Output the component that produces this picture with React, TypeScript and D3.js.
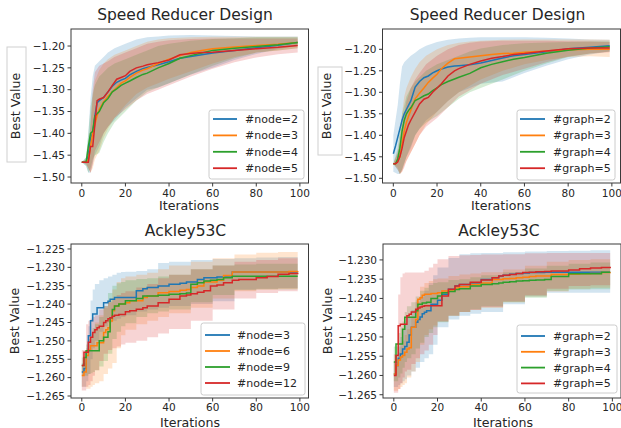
import React from 'react';
import * as d3 from 'd3';

const colors = ['#1f77b4', '#ff7f0e', '#2ca02c', '#d62728'];

// iteration grids (means / bands)
const srIters = [0, 1, 2, 3, 4, 5, 6, 7, 8, 10, 12, 14, 16, 18, 20, 22, 25, 28, 30, 35, 40, 45, 50, 55, 60, 70, 80, 90, 99];
const srBandIters = [0, 2, 3, 4, 5, 6, 8, 10, 12, 15, 20, 25, 30, 35, 40, 50, 60, 70, 80, 90, 99];
const akIters = [0, 1, 2, 3, 4, 5, 6, 7, 8, 10, 11, 12, 13, 14, 15, 17, 20, 22, 25, 28, 30, 35, 40, 45, 48, 50, 53, 56, 59, 62, 65, 69, 72, 80, 85, 90, 95, 99];
const akBandIters = [0, 2, 3, 4, 5, 6, 8, 10, 12, 14, 16, 18, 20, 25, 30, 35, 40, 50, 60, 70, 80, 90, 99];

const xTicks = [0, 20, 40, 60, 80, 100];
const srYTicks = [-1.5, -1.45, -1.4, -1.35, -1.3, -1.25, -1.2];
const akNodeYTicks = [-1.265, -1.26, -1.255, -1.25, -1.245, -1.24, -1.235, -1.23, -1.225];
const akGraphYTicks = [-1.265, -1.26, -1.255, -1.25, -1.245, -1.24, -1.235, -1.23];

// Speed Reducer, #node
const srNodeLabels = ['#node=2', '#node=3', '#node=4', '#node=5'];
const srNodeMean = [
  [-1.466, -1.466, -1.466, -1.45, -1.41, -1.4, -1.36, -1.33, -1.325, -1.318, -1.305, -1.292, -1.283, -1.278, -1.274, -1.266, -1.258, -1.252, -1.249, -1.243, -1.236, -1.228, -1.224, -1.22, -1.216, -1.21, -1.204, -1.198, -1.192],
  [-1.466, -1.466, -1.466, -1.46, -1.43, -1.4, -1.38, -1.36, -1.345, -1.328, -1.315, -1.305, -1.295, -1.285, -1.28, -1.272, -1.262, -1.255, -1.252, -1.24, -1.23, -1.222, -1.215, -1.21, -1.206, -1.202, -1.199, -1.196, -1.192],
  [-1.466, -1.466, -1.466, -1.43, -1.4, -1.395, -1.36, -1.355, -1.35, -1.33, -1.32, -1.305, -1.298, -1.29, -1.285, -1.28, -1.272, -1.265, -1.262, -1.25, -1.24, -1.228, -1.222, -1.216, -1.21, -1.205, -1.201, -1.197, -1.192],
  [-1.466, -1.466, -1.466, -1.466, -1.43, -1.43, -1.38, -1.325, -1.322, -1.318, -1.305, -1.29, -1.276, -1.272, -1.268, -1.258, -1.25, -1.246, -1.243, -1.238, -1.232, -1.22, -1.217, -1.215, -1.214, -1.21, -1.206, -1.203, -1.199],
];
const srNodeLo = [
  [-1.466, -1.475, -1.49, -1.49, -1.47, -1.45, -1.43, -1.4, -1.385, -1.37, -1.34, -1.32, -1.3, -1.295, -1.285, -1.265, -1.25, -1.232, -1.218, -1.207, -1.2],
  [-1.466, -1.47, -1.48, -1.49, -1.48, -1.46, -1.44, -1.41, -1.39, -1.365, -1.335, -1.31, -1.295, -1.285, -1.275, -1.258, -1.24, -1.225, -1.215, -1.21, -1.205],
  [-1.466, -1.475, -1.49, -1.48, -1.46, -1.45, -1.445, -1.42, -1.4, -1.375, -1.35, -1.325, -1.305, -1.295, -1.285, -1.265, -1.245, -1.228, -1.215, -1.21, -1.205],
  [-1.466, -1.47, -1.48, -1.49, -1.47, -1.44, -1.42, -1.4, -1.385, -1.365, -1.345, -1.325, -1.31, -1.3, -1.29, -1.27, -1.252, -1.237, -1.226, -1.219, -1.215],
];
const srNodeHi = [
  [-1.466, -1.455, -1.4, -1.32, -1.27, -1.245, -1.235, -1.225, -1.215, -1.205, -1.195, -1.185, -1.18, -1.178, -1.176, -1.175, -1.176, -1.177, -1.178, -1.178, -1.178],
  [-1.466, -1.46, -1.44, -1.38, -1.32, -1.28, -1.255, -1.24, -1.23, -1.22, -1.21, -1.2, -1.19, -1.185, -1.182, -1.18, -1.179, -1.179, -1.179, -1.179, -1.179],
  [-1.466, -1.455, -1.4, -1.34, -1.31, -1.29, -1.27, -1.26, -1.25, -1.24, -1.23, -1.22, -1.21, -1.2, -1.195, -1.188, -1.184, -1.182, -1.18, -1.18, -1.18],
  [-1.466, -1.46, -1.45, -1.38, -1.3, -1.26, -1.245, -1.24, -1.235, -1.225, -1.215, -1.205, -1.195, -1.19, -1.187, -1.184, -1.183, -1.183, -1.183, -1.183, -1.183],
];

// Speed Reducer, #graph
const srGraphLabels = ['#graph=2', '#graph=3', '#graph=4', '#graph=5'];
const srGraphMean = [
  [-1.443, -1.425, -1.405, -1.385, -1.365, -1.35, -1.34, -1.33, -1.32, -1.288, -1.275, -1.266, -1.262, -1.255, -1.25, -1.246, -1.241, -1.239, -1.238, -1.236, -1.232, -1.226, -1.22, -1.215, -1.212, -1.206, -1.199, -1.195, -1.192],
  [-1.466, -1.466, -1.46, -1.45, -1.42, -1.39, -1.37, -1.355, -1.342, -1.315, -1.302, -1.29, -1.277, -1.267, -1.258, -1.245, -1.232, -1.222, -1.221, -1.218, -1.215, -1.212, -1.21, -1.209, -1.207, -1.204, -1.201, -1.2, -1.2],
  [-1.466, -1.466, -1.455, -1.43, -1.39, -1.365, -1.35, -1.342, -1.336, -1.319, -1.314, -1.308, -1.304, -1.296, -1.29, -1.282, -1.275, -1.269, -1.265, -1.256, -1.243, -1.235, -1.229, -1.223, -1.219, -1.209, -1.202, -1.197, -1.194],
  [-1.466, -1.466, -1.462, -1.45, -1.43, -1.405, -1.39, -1.375, -1.365, -1.346, -1.327, -1.316, -1.312, -1.3, -1.29, -1.28, -1.262, -1.25, -1.245, -1.235, -1.227, -1.221, -1.217, -1.212, -1.21, -1.204, -1.199, -1.197, -1.197],
];
const srGraphLo = [
  [-1.485, -1.49, -1.49, -1.48, -1.465, -1.45, -1.43, -1.4, -1.385, -1.365, -1.345, -1.32, -1.3, -1.29, -1.28, -1.275, -1.255, -1.238, -1.223, -1.212, -1.205],
  [-1.466, -1.475, -1.49, -1.485, -1.47, -1.46, -1.44, -1.42, -1.4, -1.375, -1.345, -1.32, -1.3, -1.285, -1.27, -1.25, -1.235, -1.225, -1.218, -1.216, -1.218],
  [-1.466, -1.48, -1.49, -1.48, -1.465, -1.45, -1.425, -1.4, -1.385, -1.37, -1.355, -1.335, -1.315, -1.3, -1.29, -1.27, -1.25, -1.233, -1.218, -1.21, -1.205],
  [-1.466, -1.48, -1.49, -1.485, -1.475, -1.46, -1.44, -1.42, -1.4, -1.38, -1.36, -1.335, -1.31, -1.295, -1.28, -1.26, -1.245, -1.23, -1.217, -1.21, -1.207],
];
const srGraphHi = [
  [-1.4, -1.33, -1.28, -1.24, -1.23, -1.225, -1.215, -1.208, -1.2, -1.192, -1.183, -1.178, -1.175, -1.173, -1.172, -1.172, -1.172, -1.173, -1.175, -1.177, -1.178],
  [-1.466, -1.44, -1.4, -1.35, -1.31, -1.29, -1.265, -1.245, -1.23, -1.215, -1.2, -1.19, -1.185, -1.182, -1.18, -1.178, -1.177, -1.177, -1.177, -1.177, -1.178],
  [-1.466, -1.43, -1.39, -1.35, -1.33, -1.31, -1.29, -1.275, -1.265, -1.25, -1.235, -1.225, -1.215, -1.205, -1.198, -1.19, -1.186, -1.184, -1.183, -1.182, -1.182],
  [-1.466, -1.44, -1.42, -1.38, -1.35, -1.32, -1.29, -1.27, -1.255, -1.235, -1.215, -1.2, -1.19, -1.185, -1.182, -1.18, -1.18, -1.18, -1.181, -1.182, -1.183],
];

// Ackley53C, #node
const akNodeLabels = ['#node=3', '#node=6', '#node=9', '#node=12'];
const akNodeMean = [
  [-1.2585, -1.2575, -1.2531, -1.2486, -1.2445, -1.2427, -1.2427, -1.241, -1.241, -1.2396, -1.2396, -1.2392, -1.2387, -1.2387, -1.2382, -1.2382, -1.2382, -1.2382, -1.2364, -1.2358, -1.2355, -1.2351, -1.2346, -1.2343, -1.234, -1.234, -1.2333, -1.2328, -1.2328, -1.2326, -1.2326, -1.2313, -1.2313, -1.2313, -1.2313, -1.2313, -1.2313, -1.2313],
  [-1.2594, -1.2585, -1.254, -1.2525, -1.2513, -1.2513, -1.2513, -1.2505, -1.2505, -1.2477, -1.247, -1.2464, -1.2446, -1.2418, -1.2405, -1.24, -1.2396, -1.2391, -1.2391, -1.2382, -1.2378, -1.2369, -1.2366, -1.2362, -1.236, -1.2355, -1.2351, -1.234, -1.234, -1.2335, -1.2322, -1.2313, -1.2313, -1.2313, -1.2313, -1.2313, -1.2311, -1.231],
  [-1.2567, -1.2545, -1.2527, -1.2527, -1.2527, -1.2527, -1.2527, -1.2527, -1.25, -1.249, -1.249, -1.2475, -1.2437, -1.2415, -1.2405, -1.24, -1.2391, -1.2391, -1.2385, -1.2378, -1.2378, -1.2376, -1.2373, -1.2372, -1.237, -1.2346, -1.2342, -1.2337, -1.2335, -1.2333, -1.2328, -1.2324, -1.2324, -1.2324, -1.2324, -1.2324, -1.2324, -1.2324],
  [-1.2567, -1.2531, -1.2531, -1.2504, -1.249, -1.2477, -1.247, -1.2464, -1.246, -1.245, -1.2445, -1.244, -1.2437, -1.2433, -1.243, -1.2428, -1.2421, -1.2418, -1.2414, -1.241, -1.2405, -1.2396, -1.2387, -1.2378, -1.2375, -1.2372, -1.2368, -1.2364, -1.2351, -1.2348, -1.2342, -1.2335, -1.2333, -1.2328, -1.2325, -1.2319, -1.2317, -1.2315],
];
const akNodeLo = [
  [-1.2625, -1.261, -1.259, -1.255, -1.252, -1.25, -1.2475, -1.246, -1.245, -1.2445, -1.244, -1.2435, -1.243, -1.242, -1.2415, -1.241, -1.2405, -1.24, -1.2392, -1.236, -1.2358, -1.2356, -1.2355],
  [-1.2625, -1.263, -1.263, -1.2625, -1.262, -1.2615, -1.261, -1.259, -1.2575, -1.256, -1.252, -1.2485, -1.247, -1.2455, -1.2445, -1.2435, -1.2425, -1.241, -1.2385, -1.2365, -1.236, -1.2358, -1.2357],
  [-1.2595, -1.2595, -1.259, -1.2588, -1.2585, -1.258, -1.257, -1.2555, -1.2535, -1.2495, -1.2475, -1.246, -1.2452, -1.2435, -1.2425, -1.242, -1.2415, -1.2395, -1.2375, -1.2362, -1.236, -1.236, -1.236],
  [-1.2635, -1.2625, -1.262, -1.261, -1.2595, -1.258, -1.2555, -1.2535, -1.2525, -1.252, -1.2515, -1.251, -1.2505, -1.25, -1.249, -1.248, -1.2468, -1.2445, -1.2415, -1.2385, -1.237, -1.2365, -1.2362],
];
const akNodeHi = [
  [-1.256, -1.252, -1.246, -1.239, -1.236, -1.2345, -1.2335, -1.233, -1.2325, -1.232, -1.2315, -1.2313, -1.2312, -1.231, -1.2305, -1.2288, -1.2285, -1.228, -1.2277, -1.2275, -1.2273, -1.2272, -1.227],
  [-1.2565, -1.254, -1.251, -1.249, -1.247, -1.245, -1.243, -1.241, -1.239, -1.236, -1.234, -1.233, -1.2325, -1.232, -1.2315, -1.2305, -1.2295, -1.2285, -1.2275, -1.2265, -1.226, -1.2258, -1.2256],
  [-1.2545, -1.251, -1.2495, -1.248, -1.2465, -1.2455, -1.2435, -1.2405, -1.237, -1.235, -1.2343, -1.234, -1.2335, -1.2332, -1.233, -1.2325, -1.232, -1.2305, -1.2295, -1.2292, -1.229, -1.229, -1.229],
  [-1.2525, -1.2455, -1.2445, -1.244, -1.2435, -1.243, -1.2415, -1.2405, -1.2395, -1.2385, -1.2375, -1.237, -1.2365, -1.2355, -1.2345, -1.233, -1.232, -1.2305, -1.2295, -1.2285, -1.228, -1.2275, -1.2272],
];

// Ackley53C, #graph
const akGraphLabels = ['#graph=2', '#graph=3', '#graph=4', '#graph=5'];
const akGraphMean = [
  [-1.2596, -1.2574, -1.2555, -1.2544, -1.2531, -1.2525, -1.2514, -1.2495, -1.2475, -1.2462, -1.2455, -1.2448, -1.244, -1.2436, -1.2432, -1.2415, -1.2405, -1.2389, -1.2376, -1.2368, -1.2364, -1.236, -1.2351, -1.2346, -1.2342, -1.234, -1.2337, -1.2335, -1.2334, -1.2333, -1.2333, -1.2332, -1.2332, -1.2332, -1.2332, -1.2332, -1.2332, -1.2332],
  [-1.2596, -1.2574, -1.256, -1.2552, -1.2548, -1.254, -1.2531, -1.2528, -1.2475, -1.2455, -1.2402, -1.2398, -1.2392, -1.2389, -1.2389, -1.2387, -1.2385, -1.2381, -1.2378, -1.2373, -1.237, -1.2364, -1.236, -1.2351, -1.2351, -1.2349, -1.2348, -1.2346, -1.2345, -1.2343, -1.2342, -1.2342, -1.2338, -1.2337, -1.2336, -1.2335, -1.2333, -1.2332],
  [-1.2565, -1.2518, -1.2518, -1.2518, -1.248, -1.2449, -1.2449, -1.2449, -1.2449, -1.2432, -1.2415, -1.2415, -1.2412, -1.2412, -1.241, -1.24, -1.2394, -1.2385, -1.2382, -1.2377, -1.2375, -1.2368, -1.2364, -1.2362, -1.236, -1.2358, -1.2357, -1.2355, -1.2354, -1.2353, -1.2352, -1.2351, -1.2343, -1.2336, -1.2336, -1.2336, -1.2332, -1.2332],
  [-1.26, -1.2548, -1.2471, -1.2467, -1.2467, -1.2467, -1.2445, -1.2441, -1.2435, -1.2428, -1.2425, -1.2422, -1.242, -1.2419, -1.2419, -1.2419, -1.2419, -1.2394, -1.2376, -1.2368, -1.2364, -1.2358, -1.2352, -1.2346, -1.2342, -1.234, -1.2338, -1.2335, -1.2333, -1.2332, -1.2331, -1.233, -1.2329, -1.2326, -1.2323, -1.2321, -1.232, -1.2318],
];
const akGraphLo = [
  [-1.263, -1.2625, -1.262, -1.2615, -1.261, -1.26, -1.259, -1.258, -1.2565, -1.2555, -1.2545, -1.252, -1.2475, -1.2455, -1.2445, -1.244, -1.2435, -1.2415, -1.2395, -1.2385, -1.2385, -1.2385, -1.2385],
  [-1.264, -1.2635, -1.263, -1.2625, -1.262, -1.2605, -1.259, -1.2565, -1.252, -1.2495, -1.248, -1.247, -1.246, -1.2445, -1.2435, -1.243, -1.2425, -1.241, -1.2395, -1.2382, -1.2375, -1.2372, -1.237],
  [-1.2615, -1.2605, -1.2595, -1.258, -1.2565, -1.2555, -1.2545, -1.253, -1.2515, -1.25, -1.249, -1.2475, -1.2462, -1.2445, -1.2435, -1.2428, -1.242, -1.241, -1.2398, -1.238, -1.2377, -1.2376, -1.2375],
  [-1.2645, -1.2635, -1.262, -1.2605, -1.259, -1.2585, -1.257, -1.2555, -1.2545, -1.2535, -1.252, -1.2495, -1.246, -1.2445, -1.2435, -1.243, -1.2422, -1.2408, -1.2392, -1.2375, -1.2368, -1.2366, -1.2365],
];
const akGraphHi = [
  [-1.2565, -1.2525, -1.25, -1.248, -1.2465, -1.245, -1.243, -1.241, -1.2395, -1.238, -1.236, -1.234, -1.232, -1.2295, -1.2285, -1.2283, -1.2282, -1.228, -1.2278, -1.2277, -1.2276, -1.2275, -1.2275],
  [-1.2565, -1.254, -1.2525, -1.251, -1.2495, -1.248, -1.245, -1.2405, -1.237, -1.236, -1.2355, -1.235, -1.2348, -1.2342, -1.2338, -1.2335, -1.2332, -1.2325, -1.2315, -1.2305, -1.23, -1.2298, -1.2295],
  [-1.2525, -1.249, -1.2475, -1.246, -1.2435, -1.242, -1.241, -1.2395, -1.238, -1.2372, -1.2365, -1.236, -1.2358, -1.2352, -1.235, -1.2345, -1.234, -1.2332, -1.2322, -1.2315, -1.231, -1.2307, -1.2305],
  [-1.2545, -1.239, -1.2345, -1.2335, -1.2333, -1.2333, -1.2333, -1.2333, -1.2333, -1.2328, -1.232, -1.231, -1.2298, -1.229, -1.2288, -1.2287, -1.2286, -1.2285, -1.2283, -1.2282, -1.2282, -1.2282, -1.2282],
];

const panels = [
  {
    title: 'Speed Reducer Design', titleX: 185, titleY: 20,
    x0: 71, x1: 308.5, y0: 29, y1: 183, yDomain: [-1.5137, -1.161], yTicks: srYTicks, fmt: '.2f',
    iters: srIters, bandIters: srBandIters, mean: srNodeMean, lo: srNodeLo, hi: srNodeHi, labels: srNodeLabels, step: false,
    yLabelX: 19.5, xLabelX: 189, xLabelY: 210, xTickDy: 14,
    box: { x: 7, y: 47, w: 19, h: 115 },
    legend: { x: 209, y: 110, w: 95, h: 69, row0: 119, gap: 16.4, l0: 213, l1: 237, tx: 245 },
  },
  {
    title: 'Speed Reducer Design', titleX: 497.5, titleY: 20,
    x0: 382.5, x1: 620.5, y0: 29, y1: 183, yDomain: [-1.5109, -1.1528], yTicks: srYTicks, fmt: '.2f',
    iters: srIters, bandIters: srBandIters, mean: srGraphMean, lo: srGraphLo, hi: srGraphHi, labels: srGraphLabels, step: false,
    yLabelX: 331, xLabelX: 501, xLabelY: 210, xTickDy: 14,
    box: { x: 318, y: 67, w: 24, h: 88 },
    legend: { x: 517, y: 110, w: 98, h: 70, row0: 119, gap: 16.4, l0: 520, l1: 545, tx: 553 },
  },
  {
    title: 'Ackley53C', titleX: 185.5, titleY: 236,
    x0: 71, x1: 308.5, y0: 244, y1: 398, yDomain: [-1.26554, -1.22365], yTicks: akNodeYTicks, fmt: '.3f',
    iters: akIters, bandIters: akBandIters, mean: akNodeMean, lo: akNodeLo, hi: akNodeHi, labels: akNodeLabels, step: true,
    yLabelX: 18.5, xLabelX: 190, xLabelY: 426.5, xTickDy: 12.5,
    box: null,
    legend: { x: 201, y: 323, w: 104, h: 72, row0: 335, gap: 16, l0: 205, l1: 230, tx: 237 },
  },
  {
    title: 'Ackley53C', titleX: 499, titleY: 236,
    x0: 383, x1: 621, y0: 244, y1: 398, yDomain: [-1.26585, -1.22587], yTicks: akGraphYTicks, fmt: '.3f',
    iters: akIters, bandIters: akBandIters, mean: akGraphMean, lo: akGraphLo, hi: akGraphHi, labels: akGraphLabels, step: true,
    yLabelX: 332, xLabelX: 503, xLabelY: 426.5, xTickDy: 12.5,
    box: null,
    legend: { x: 517, y: 325, w: 100, h: 68, row0: 336, gap: 15.8, l0: 521, l1: 545, tx: 553 },
  },
];

const FONT = 'DejaVu Sans, sans-serif';
const TEXT = '#262626';

function Panel({ p }: { p: any }) {
  const x = d3.scaleLinear().domain([-4.95, 103.95]).range([p.x0, p.x1]);
  const y = d3.scaleLinear().domain(p.yDomain).range([p.y1, p.y0]);
  const curve = p.step ? d3.curveStepAfter : d3.curveLinear;
  const fmt = d3.format(p.fmt);

  const area = (s: number) =>
    d3.area<number>()
      .x((_, i) => x(p.bandIters[i]))
      .y0((d) => y(d))
      .y1((_, i) => y(p.hi[s][i]))
      .curve(curve)(p.lo[s]) as string;

  const line = (s: number) =>
    d3.line<number>()
      .x((_, i) => x(p.iters[i]))
      .y((d) => y(d))
      .curve(curve)(p.mean[s]) as string;

  const lg = p.legend;
  return (
    <g>
      <text x={p.titleX} y={p.titleY} textAnchor="middle" fontSize={15.5} fill={TEXT}>{p.title}</text>
      <defs>
        <clipPath id={'clip' + p.x0 + p.y0}>
          <rect x={p.x0} y={p.y0} width={p.x1 - p.x0} height={p.y1 - p.y0} />
        </clipPath>
      </defs>
      <g clipPath={`url(#clip${p.x0}${p.y0})`}>
        {p.lo.map((_: any, s: number) => (
          <path key={'b' + s} d={area(s)} fill={colors[s]} fillOpacity={0.2} stroke="none" />
        ))}
        {p.mean.map((_: any, s: number) => (
          <path key={'l' + s} d={line(s)} fill="none" stroke={colors[s]} strokeWidth={1.5} />
        ))}
      </g>
      <rect x={p.x0} y={p.y0} width={p.x1 - p.x0} height={p.y1 - p.y0} fill="none" stroke="#3a3a3a" strokeWidth={1} />
      {xTicks.map((t) => (
        <g key={'x' + t}>
          <line x1={x(t)} x2={x(t)} y1={p.y1} y2={p.y1 + 3.5} stroke="#3a3a3a" />
          <text x={x(t)} y={p.y1 + p.xTickDy} textAnchor="middle" fontSize={10.5} fill={TEXT}>{t}</text>
        </g>
      ))}
      {p.yTicks.map((t: number) => (
        <g key={'y' + t}>
          <line x1={p.x0 - 3.5} x2={p.x0} y1={y(t)} y2={y(t)} stroke="#3a3a3a" />
          <text x={p.x0 - 6} y={y(t) + 3.8} textAnchor="end" fontSize={10.5} fill={TEXT}>{fmt(t)}</text>
        </g>
      ))}
      <text x={p.xLabelX} y={p.xLabelY} textAnchor="middle" fontSize={12.6} fill={TEXT}>Iterations</text>
      {p.box && (
        <rect x={p.box.x} y={p.box.y} width={p.box.w} height={p.box.h} fill="#fff" stroke="#d0d0d0" strokeWidth={1} />
      )}
      <text
        transform={`translate(${p.yLabelX},${(p.y0 + p.y1) / 2}) rotate(-90)`}
        textAnchor="middle" fontSize={12.6} fill={TEXT}
      >Best Value</text>
      <rect x={lg.x} y={lg.y} width={lg.w} height={lg.h} rx={2.5} fill="#fff" fillOpacity={0.8} stroke="#cccccc" strokeWidth={1} />
      {p.labels.map((lab: string, s: number) => (
        <g key={lab}>
          <line x1={lg.l0} x2={lg.l1} y1={lg.row0 + s * lg.gap} y2={lg.row0 + s * lg.gap} stroke={colors[s]} strokeWidth={1.8} />
          <text x={lg.tx} y={lg.row0 + s * lg.gap + 4} fontSize={11} fill={TEXT}>{lab}</text>
        </g>
      ))}
    </g>
  );
}

export default function App() {
  return (
    <svg
      width={621}
      height={428}
      style={{ position: 'absolute', left: 0, top: 0, background: '#fff', fontFamily: FONT }}
    >
      <rect width={621} height={428} fill="#fff" />
      {panels.map((p, i) => <Panel key={i} p={p} />)}
    </svg>
  );
}
